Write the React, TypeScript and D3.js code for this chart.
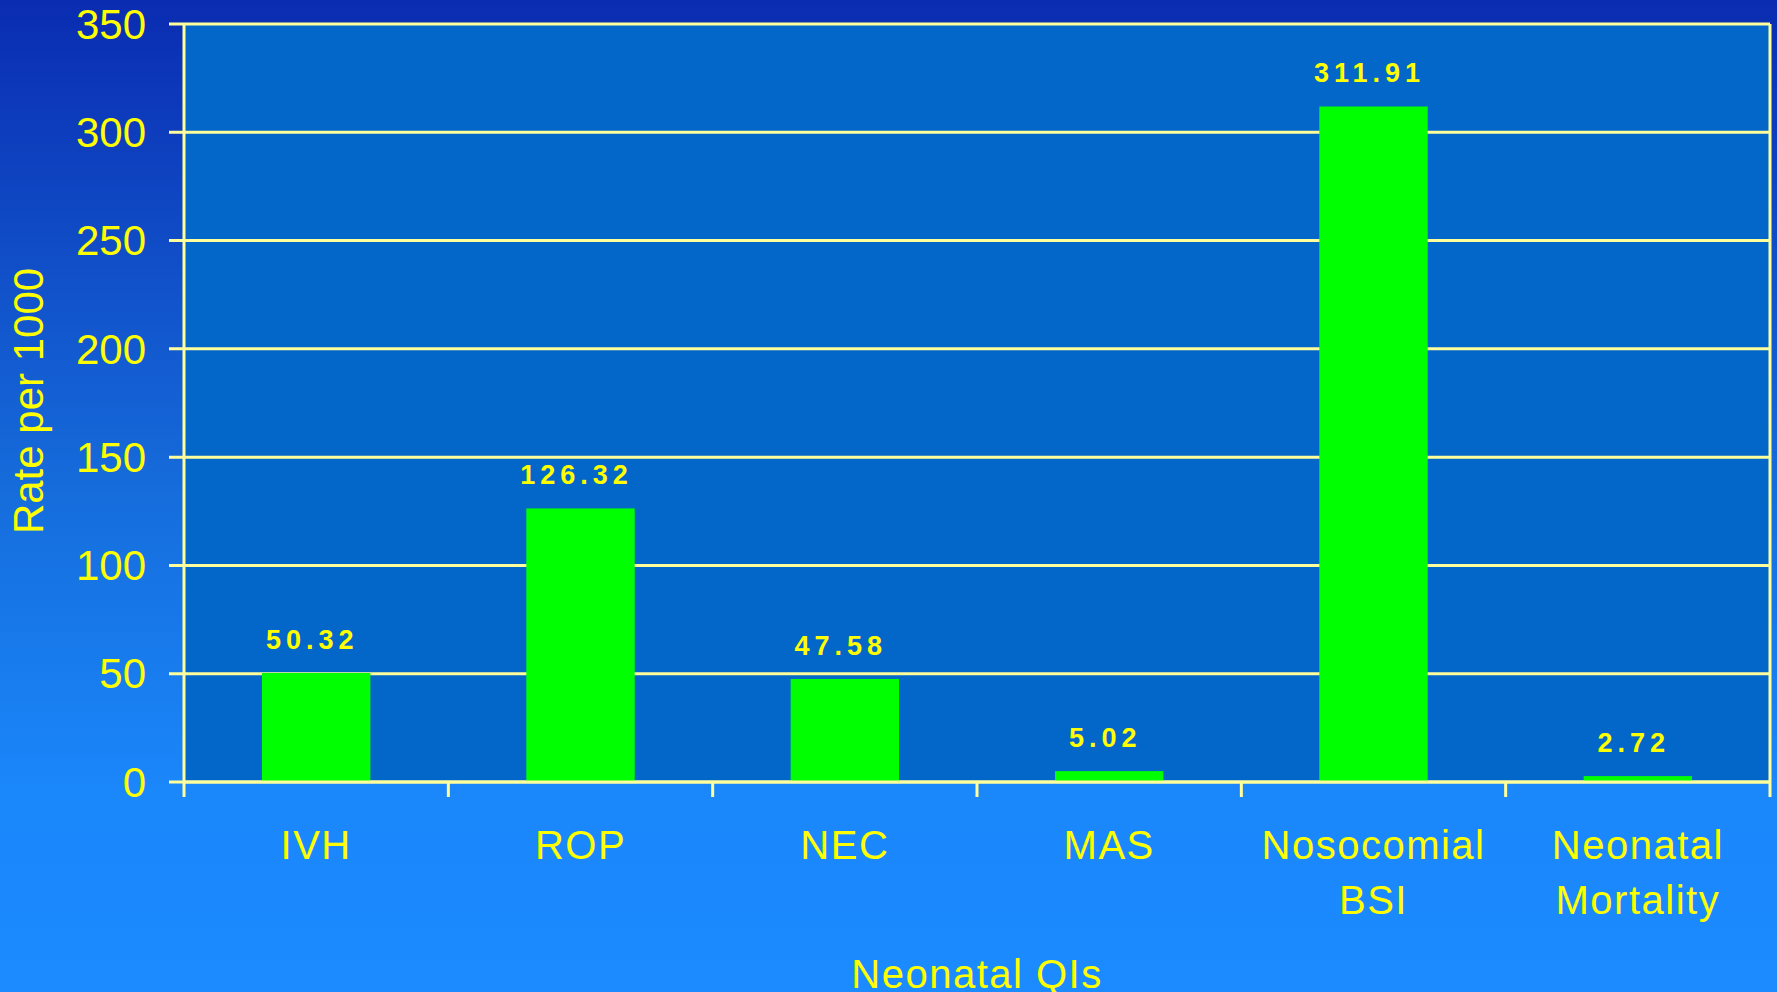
import React, { useEffect, useRef } from 'react'
import * as d3 from 'd3'

// chart data
const categories = ['IVH', 'ROP', 'NEC', 'MAS', 'Nosocomial BSI', 'Neonatal Mortality']
const categoryLines = [['IVH'], ['ROP'], ['NEC'], ['MAS'], ['Nosocomial', 'BSI'], ['Neonatal', 'Mortality']]
const rates = [50.32, 126.32, 47.58, 5.02, 311.91, 2.72]
const yTicks = [0, 50, 100, 150, 200, 250, 300, 350]

const W = 1777
const H = 992

const App: React.FC = () => {
  const svgRef = useRef<SVGSVGElement>(null)

  useEffect(() => {
    document.body.style.margin = '0'
    const svg = d3.select(svgRef.current)
    svg.selectAll('*').remove()

    const left = 184
    const right = 1770
    const top = 24
    const bottom = 782
    const font = '"Liberation Sans", Arial, sans-serif'
    const gridColor = '#ffff9c'
    const textColor = '#ffff00'

    // background gradient
    const defs = svg.append('defs')
    const grad = defs.append('linearGradient')
      .attr('id', 'bg')
      .attr('x1', 0).attr('y1', 0).attr('x2', 0).attr('y2', 1)
    grad.append('stop').attr('offset', '0').attr('stop-color', '#0a2cb1')
    grad.append('stop').attr('offset', '0.5').attr('stop-color', '#166ddc')
    grad.append('stop').attr('offset', '0.8').attr('stop-color', '#1a87fb')
    grad.append('stop').attr('offset', '1').attr('stop-color', '#1b8bff')

    svg.append('rect')
      .attr('width', W).attr('height', H)
      .attr('fill', 'url(#bg)')

    const x = d3.scaleBand<string>()
      .domain(categories)
      .range([left, right])
      .padding(0)

    const y = d3.scaleLinear()
      .domain([0, 350])
      .range([bottom, top])

    // plot area
    svg.append('rect')
      .attr('x', left).attr('y', top)
      .attr('width', right - left).attr('height', bottom - top)
      .attr('fill', '#0366c9')

    // gridlines
    svg.selectAll('.grid')
      .data(yTicks)
      .enter()
      .append('line')
      .attr('x1', left - 15)
      .attr('x2', right)
      .attr('y1', d => y(d))
      .attr('y2', d => y(d))
      .attr('stroke', gridColor)
      .attr('stroke-width', 3)

    // bars
    const barW = x.bandwidth() * 0.41
    svg.selectAll('.bar')
      .data(rates)
      .enter()
      .append('rect')
      .attr('x', (d, i) => (x(categories[i]) || 0) + x.bandwidth() / 2 - barW / 2)
      .attr('y', d => y(d))
      .attr('width', barW)
      .attr('height', d => bottom - y(d))
      .attr('fill', '#00ff00')

    // axes lines + x ticks
    svg.append('line')
      .attr('x1', left).attr('x2', left)
      .attr('y1', top).attr('y2', bottom + 15)
      .attr('stroke', gridColor).attr('stroke-width', 3)
    svg.append('line')
      .attr('x1', right).attr('x2', right)
      .attr('y1', top).attr('y2', bottom + 15)
      .attr('stroke', gridColor).attr('stroke-width', 3)
    svg.selectAll('.xtick')
      .data(categories.slice(1))
      .enter()
      .append('line')
      .attr('x1', d => x(d) || 0)
      .attr('x2', d => x(d) || 0)
      .attr('y1', bottom)
      .attr('y2', bottom + 15)
      .attr('stroke', gridColor)
      .attr('stroke-width', 3)
    svg.append('line')
      .attr('x1', left).attr('x2', right)
      .attr('y1', bottom).attr('y2', bottom)
      .attr('stroke', gridColor).attr('stroke-width', 3)

    // value labels
    svg.selectAll('.val')
      .data(rates)
      .enter()
      .append('text')
      .attr('x', (d, i) => (x(categories[i]) || 0) + x.bandwidth() / 2 - 4)
      .attr('y', d => y(d) - 24)
      .attr('text-anchor', 'middle')
      .attr('font-family', font)
      .attr('font-weight', 'bold')
      .attr('font-size', 27)
      .attr('letter-spacing', 5)
      .attr('fill', textColor)
      .text(d => d.toFixed(2))

    // y tick labels
    svg.selectAll('.ylab')
      .data(yTicks)
      .enter()
      .append('text')
      .attr('x', 146)
      .attr('y', d => y(d))
      .attr('dy', '0.35em')
      .attr('text-anchor', 'end')
      .attr('font-family', font)
      .attr('font-size', 42)
      .attr('fill', textColor)
      .text(d => d)

    // category labels
    const cat = svg.selectAll('.cat')
      .data(categoryLines)
      .enter()
      .append('text')
      .attr('text-anchor', 'middle')
      .attr('font-family', font)
      .attr('font-size', 40)
      .attr('letter-spacing', 1.5)
      .attr('fill', textColor)
    cat.each(function (lines, i) {
      const cx = (x(categories[i]) || 0) + x.bandwidth() / 2
      lines.forEach((ln, j) => {
        d3.select(this).append('tspan')
          .attr('x', cx)
          .attr('y', 859 + j * 55)
          .text(ln)
      })
    })

    // axis titles
    svg.append('text')
      .attr('transform', 'translate(43,401) rotate(-90)')
      .attr('text-anchor', 'middle')
      .attr('font-family', font)
      .attr('font-size', 42)
      .attr('fill', textColor)
      .text('Rate per 1000')

    svg.append('text')
      .attr('x', (left + right) / 2)
      .attr('y', 988)
      .attr('text-anchor', 'middle')
      .attr('font-family', font)
      .attr('font-size', 40)
      .attr('letter-spacing', 1.5)
      .attr('fill', textColor)
      .text('Neonatal QIs')
  }, [])

  return <svg ref={svgRef} width={W} height={H} style={{ display: 'block' }}></svg>
}

export default App
